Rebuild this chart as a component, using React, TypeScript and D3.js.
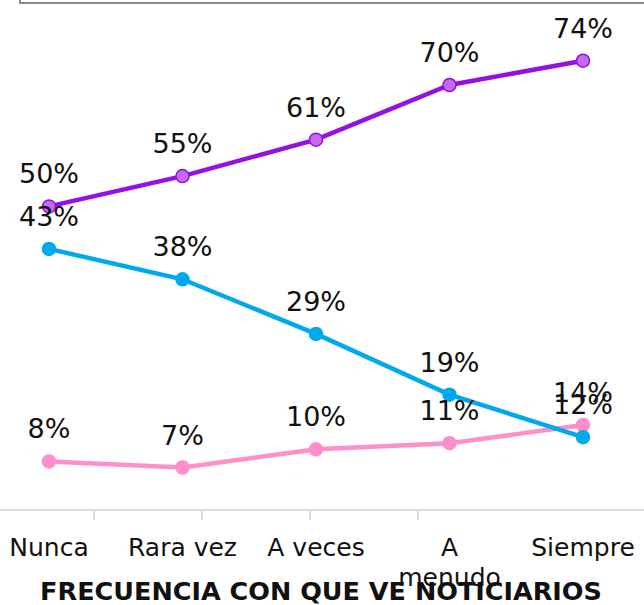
import React, { useEffect, useRef } from 'react';
import * as d3 from 'd3';

const categories = ['Nunca', 'Rara vez', 'A veces', 'A menudo', 'Siempre'];
const seriesNames = ['Siempre', 'Frecuente', 'Rara'];
const purpleValues = [50, 55, 61, 70, 74];
const blueValues = [43, 38, 29, 19, 12];
const pinkValues = [8, 7, 10, 11, 14];
const xTitle = 'FRECUENCIA CON QUE VE NOTICIARIOS';

const W = 644;
const H = 605;

export default function App() {
  const ref = useRef<SVGSVGElement>(null);

  useEffect(() => {
    const svg = d3.select(ref.current);
    svg.selectAll('*').remove();

    const font = "'DejaVu Sans', sans-serif";

    // scales
    const x = d3.scalePoint<string>().domain(categories).range([49, 583]);
    const band = d3.scaleBand<string>().domain(categories).range([-14, 526]);
    const y = d3.scaleLinear().domain([0, 84]).range([510, 0]);

    // top frame remnant
    svg.append('path')
      .attr('d', `M20,0 V3 H${W}`)
      .attr('fill', 'none')
      .attr('stroke', '#8a8a8a')
      .attr('stroke-width', 2);

    // baseline + ticks
    svg.append('line')
      .attr('x1', 0).attr('x2', W)
      .attr('y1', y(0)).attr('y2', y(0))
      .attr('stroke', '#dcdcdc').attr('stroke-width', 2);

    svg.append('g')
      .selectAll('line')
      .data(categories.slice(1))
      .enter()
      .append('line')
      .attr('x1', d => band(d)!)
      .attr('x2', d => band(d)!)
      .attr('y1', y(0))
      .attr('y2', y(0) + 10)
      .attr('stroke', '#dcdcdc')
      .attr('stroke-width', 2);

    // tick labels with wrapping
    const tickLabels = svg.append('g')
      .selectAll('text')
      .data(categories)
      .enter()
      .append('text')
      .attr('x', d => x(d)!)
      .attr('y', 556)
      .attr('text-anchor', 'middle')
      .style('font-family', font)
      .style('font-size', '25px')
      .style('fill', '#111');

    tickLabels.each(function (d) {
      const t = d3.select(this);
      t.text(d);
      if ((this as SVGTextElement).getComputedTextLength() > 116) {
        t.text(null);
        d.split(' ').forEach((w, i) => {
          t.append('tspan')
            .attr('x', x(d)!)
            .attr('dy', i === 0 ? 0 : 30)
            .text(w);
        });
      }
    });

    // x title
    svg.append('text')
      .attr('x', 321)
      .attr('y', 600)
      .attr('text-anchor', 'middle')
      .style('font-family', font)
      .style('font-weight', 'bold')
      .style('font-size', '25.5px')
      .style('fill', '#111')
      .text(xTitle);

    const series = [
      { name: seriesNames[2], values: pinkValues, color: '#ff8fc8', fill: '#ff8fc8' },
      { name: seriesNames[1], values: blueValues, color: '#00a9ec', fill: '#00a9ec' },
      { name: seriesNames[0], values: purpleValues, color: '#9411e6', fill: '#c46af2' },
    ];

    const line = d3.line<number>()
      .x((_, i) => x(categories[i])!)
      .y(d => y(d));

    series.forEach(s => {
      const g = svg.append('g').attr('class', 'series');
      g.append('path')
        .datum(s.values)
        .attr('d', line)
        .attr('fill', 'none')
        .attr('stroke', s.color)
        .attr('stroke-width', 4.5);

      g.selectAll('circle')
        .data(s.values)
        .enter()
        .append('circle')
        .attr('cx', (_, i) => x(categories[i])!)
        .attr('cy', d => y(d))
        .attr('r', 6.5)
        .attr('fill', s.fill)
        .attr('stroke', s.color)
        .attr('stroke-width', 1.5);
    });

    // data labels
    series.forEach(s => {
      svg.append('g')
        .selectAll('text')
        .data(s.values)
        .enter()
        .append('text')
        .attr('x', (_, i) => x(categories[i])!)
        .attr('y', d => y(d) - 23)
        .attr('text-anchor', 'middle')
        .style('font-family', font)
        .style('font-size', '27px')
        .style('fill', '#111')
        .text(d => `${d}%`);
    });
  }, []);

  return (
    <svg
      ref={ref}
      width={W}
      height={H}
      style={{ position: 'absolute', left: 0, top: 0, background: '#fff' }}
    />
  );
}
